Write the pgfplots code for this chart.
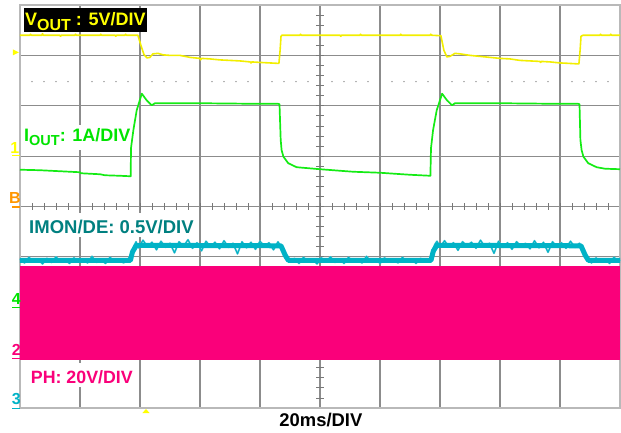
\documentclass[border=0pt]{standalone}
\usepackage{pgfplots}
\pgfplotsset{compat=1.18}
\usepackage{fontspec}
\setmainfont{Liberation Sans}
\definecolor{vyel}{RGB}{242,238,0}
\definecolor{labyel}{RGB}{255,255,0}
\definecolor{igreen}{RGB}{20,235,20}
\definecolor{labgreen}{RGB}{0,228,0}
\definecolor{tealc}{RGB}{0,178,198}
\definecolor{teallight}{RGB}{90,200,215}
\definecolor{labteal}{RGB}{0,128,128}
\definecolor{phc}{RGB}{250,0,122}
\definecolor{orangec}{RGB}{255,150,0}
\definecolor{gridc}{RGB}{140,140,140}
\definecolor{borderc}{RGB}{185,185,185}
\definecolor{tickc}{RGB}{120,120,120}
\newcommand\lab[1]{\fontsize{#1}{#1}\selectfont\bfseries}
\pgfplotstableread{
t v
0 2.96
1.5 2.88
3 2.99
4.5 2.90
6 2.95
7.5 2.86
9 2.97
10.5 2.89
12 3.00
13.5 2.91
15 2.95
16.5 2.87
18 2.98
19.5 2.90
21 2.96
22.5 2.88
24 3.01
25.5 2.89
27 2.94
28.5 2.87
30 2.99
31.5 2.91
33 2.96
34.5 2.88
36 2.95
37 3.05
38 3.22
38.7 3.30
39.5 3.18
41 3.33
42.5 3.20
44 3.29
45.5 3.14
47 3.31
48.5 3.19
50 3.27
51.5 3.08
53 3.30
54.5 3.21
56 3.34
57.5 3.17
59 3.28
60.5 3.12
62 3.31
63.5 3.20
65 3.29
66.5 3.16
68 3.32
69.5 3.19
71 3.27
72.5 3.06
74 3.30
75.5 3.18
77 3.29
78.5 3.15
80 3.31
81.5 3.21
83 3.28
84.5 3.14
86 3.30
87 3.20
88 3.05
89 2.97
90 2.90
91.5 2.97
93 2.87
94.5 2.99
96 2.91
97.5 2.95
99 2.86
100.5 2.98
102 2.90
103.5 3.00
105 2.89
106.5 2.96
108 2.87
109.5 2.99
111 2.91
112.5 2.95
114 2.88
115.5 3.01
117 2.90
118.5 2.96
120 2.87
121.5 2.98
123 2.91
124.5 2.95
126 2.88
127.5 2.99
129 2.90
130.5 2.96
132 2.87
133.5 2.97
135 2.91
136.5 2.94
137.3 3.10
138.3 3.25
139 3.31
140 3.19
141.5 3.32
143 3.20
144.5 3.28
146 3.13
147.5 3.30
149 3.22
150.5 3.29
152 3.17
153.5 3.33
155 3.20
156.5 3.27
158 3.07
159.5 3.31
161 3.19
162.5 3.28
164 3.15
165.5 3.30
167 3.21
168.5 3.27
170 3.16
171.5 3.32
173 3.18
174.5 3.29
176 3.09
177.5 3.30
179 3.20
180.5 3.28
182 3.17
183.5 3.31
185 3.19
186.5 3.27
187.5 3.10
188.5 3.00
189.5 2.95
190.5 2.88
192 2.98
193.5 2.90
195 2.96
196.5 2.87
198 2.99
199.5 2.91
200 2.94
}\imonnoise
\begin{document}
\begin{tikzpicture}[x=1pt,y=1pt]
\path[use as bounding box] (0,0) rectangle (621,433);
\begin{axis}[
  at={(20pt,25pt)}, anchor=south west,
  scale only axis, width=600pt, height=403pt,
  xmin=0, xmax=200, ymin=0, ymax=8,
  xtick={0,20,...,200}, ytick={0,1,...,8},
  xticklabels={}, yticklabels={},
  major tick length=0pt,
  grid=major,
  major grid style={draw=gridc, line width=1.1pt},
  axis line style={draw=borderc, line width=1.2pt},
  clip=false,
  every axis plot/.append style={line join=round},
]
% minor ticks on centre lines
\pgfplotsinvokeforeach{1,...,49}{
  \draw[tickc, line width=0.8pt] (axis cs:#1*4,4) ++(0,-3.5pt) -- ++(0,7pt);
}
\pgfplotsinvokeforeach{1,...,39}{
  \draw[tickc, line width=0.8pt] (axis cs:100,#1*0.2) ++(-4pt,0) -- ++(8pt,0);
}
% dotted level line
\pgfplotsinvokeforeach{1,2,3,4,6,7,8,9,11,12,13,14,16,17,18,19,21,22,23,24,26,27,28,29,31,32,33,34,36,37,38,39,41,42,43,44,46,47,48,49}{
  \fill[gridc] (axis cs:#1*4,6.48) circle (0.8pt);
}

% VOUT (yellow)
\addplot[vyel, line width=1.6pt] coordinates {
(0,7.40) (3.3,7.40) (3.5,7.42) (3.8,7.40) (7.3,7.40) (7.5,7.43) (7.8,7.40)
(13.3,7.40) (13.5,7.38) (13.8,7.40) (18.3,7.40) (18.5,7.42) (18.8,7.40)
(26.7,7.40) (26.9,7.42) (27.2,7.40) (31.7,7.40) (31.9,7.38) (32.2,7.40)
(35,7.40) (35.2,7.42) (35.5,7.40) (39.3,7.40) (40.3,7.20) (41.3,7.02)
(42.3,6.95) (43.3,6.96) (44.3,7.03) (46,7.04) (47.7,7.01) (50,7.00)
(53.3,7.00) (56.7,6.96) (60,6.94) (60.2,6.91) (60.5,6.94) (63.3,6.93)
(66.7,6.91) (70,6.90) (73.3,6.89) (76.7,6.87) (77,6.85) (77.3,6.87) (80,6.86)
(83.3,6.85) (86.3,6.84) (86.7,7.10) (87,7.38) (87.3,7.40)
(93.3,7.40) (93.5,7.42) (93.8,7.40) (106.7,7.40) (106.9,7.38) (107.2,7.40)
(113.3,7.40) (113.5,7.42) (113.8,7.40) (126.7,7.40) (126.9,7.42) (127.2,7.40)
(136.7,7.40) (136.9,7.42) (137.2,7.40) (140.3,7.39) (141.3,7.10)
(142.3,6.97) (143.3,6.98) (145,7.04) (146.7,7.03) (150,7.00) (153.3,6.98)
(156.7,6.96) (160,6.94) (163.3,6.93) (166.7,6.90) (170,6.89) (173.3,6.88)
(173.5,6.86) (173.8,6.88) (176.7,6.87) (180,6.85) (183.3,6.84) (186.3,6.83)
(186.7,7.10) (187,7.38) (187.7,7.40) (193.3,7.40) (193.5,7.42) (193.8,7.40)
(196.7,7.40) (196.9,7.42) (197.2,7.40) (200,7.40)
};

% IOUT (green)
\addplot[igreen, line width=1.7pt] coordinates {
(0,4.73) (6.67,4.72) (13.33,4.70) (20,4.68) (20.3,4.66) (26.7,4.64)
(28.3,4.62) (33.3,4.61) (36.9,4.60) (37,5.16) (37.8,5.52) (38.9,5.91)
(40.6,6.24) (42.2,6.11) (43.9,6.01) (45,6.05) (60,6.05) (76.7,6.04)
(86,6.04) (86.5,6.03) (86.9,5.32) (87.2,5.12) (87.8,4.99) (89.4,4.86)
(92.2,4.78) (100,4.74) (111,4.69) (120,4.67) (130,4.63) (136.8,4.61)
(137,5.16) (137.7,5.52) (138.9,5.91) (140.7,6.24) (142.3,6.11) (144,6.01)
(145,6.05) (160,6.05) (176.7,6.04) (186,6.04) (186.5,6.03) (186.8,5.32)
(187.2,5.12) (187.8,4.99) (189.4,4.86) (192.2,4.78) (195,4.75) (200,4.74)
};

% IMON/DE (teal): band and noise
\addplot[teallight, line width=1.8pt] table[x=t,y=v] {\imonnoise};
\addplot[tealc, line width=5pt] coordinates {
(0,2.93) (36.8,2.93) (37.5,3.10) (38.7,3.22) (40,3.23) (87,3.22)
(88.5,3.02) (89.5,2.93) (137,2.93) (137.8,3.12) (139,3.23) (187,3.22)
(188.5,3.02) (189.5,2.93) (200,2.93)
};
\addplot[tealc, line width=0.8pt] table[x=t,y=v] {\imonnoise};

% PH (magenta switching node, dense band)
\addplot[draw=none, fill=phc] coordinates {
(0,0.952) (200,0.952) (200,2.817) (0,2.817)
} -- cycle;

% labels
\node[anchor=base west, fill=black, text=labyel, inner xsep=1pt, inner ysep=0pt,
  text height=17pt, text depth=7pt, font=\lab{18}] at (axis cs:1.33,7.60)
  {V\raisebox{-5pt}{\lab{16}OUT} : 5V/DIV};
\node[anchor=base west, fill=white, text=labgreen, inner sep=0pt,
  text height=17pt, text depth=8pt, font=\lab{18}] at (axis cs:1.33,5.284)
  {I\raisebox{-3.5pt}{\lab{14.5}OUT}: 1A/DIV};
\node[anchor=base west, fill=white, text=labteal, inner sep=0pt,
  text height=20pt, text depth=3.5pt, font=\lab{18.5}] at (axis cs:3.0,3.466)
  {IMON/DE: 0.5V/DIV};
\node[anchor=base west, fill=white, text=phc, inner sep=0pt,
  text height=20pt, text depth=3.5pt, font=\lab{17.8}] at (axis cs:3.57,0.49)
  {PH: 20V/DIV};
\node[anchor=base, text=black, inner sep=0pt, font=\lab{18.4}] at (axis cs:100.3,-0.371)
  {20ms/DIV};

% channel reference markers
\node[anchor=base east, inner sep=0pt, text=labyel, font=\lab{16}] at (axis cs:-0.2,5.06) {1};
\draw[labyel, line width=1.2pt] (axis cs:-2.5,5.01) -- (axis cs:0,5.01);
\node[anchor=base east, inner sep=0pt, text=orangec, font=\lab{16}] at (axis cs:0.3,4.06) {B};
\draw[orangec, line width=1.2pt] (axis cs:-2.5,3.99) -- (axis cs:0,3.99);
\node[anchor=base east, inner sep=0pt, text=labgreen, font=\lab{16}] at (axis cs:0.3,2.06) {4};
\draw[labgreen, line width=1.2pt] (axis cs:-2.5,1.99) -- (axis cs:0,1.99);
\node[anchor=base east, inner sep=0pt, text=phc, font=\lab{16}] at (axis cs:0.3,1.05) {2};
\draw[phc, line width=1.2pt] (axis cs:-2.5,0.98) -- (axis cs:0,0.98);
\node[anchor=base east, inner sep=0pt, text=tealc, font=\lab{16}] at (axis cs:0.3,0.07) {3};
\draw[tealc, line width=1.2pt] (axis cs:-2.5,-0.01) -- (axis cs:0,-0.01);
% trigger markers
\fill[labyel] (axis cs:-2.4,7.12) -- (axis cs:-0.4,7.06) -- (axis cs:-2.4,7.00) -- cycle;
\fill[labyel] (axis cs:40.8,-0.10) -- (axis cs:42,-0.02) -- (axis cs:43.2,-0.10) -- cycle;
\end{axis}
\end{tikzpicture}
\end{document}
